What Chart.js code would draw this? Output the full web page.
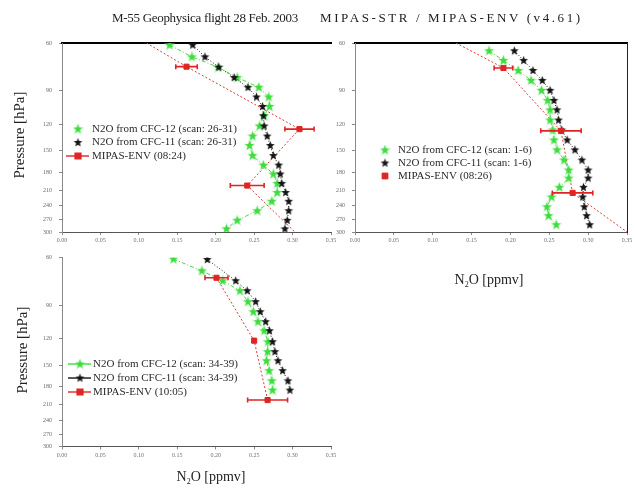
<!DOCTYPE html>
<html>
<head>
<meta charset="utf-8">
<script src="https://cdn.jsdelivr.net/npm/chart.js@4.4.1/dist/chart.umd.min.js"></script>
<style>
    body { margin: 0; background: #fff; }
    #marco { position: relative; width: 635px; height: 489px; overflow: hidden; font-family: "Liberation Serif", "DejaVu Serif", serif; color: #222; }
    #marco canvas { position: absolute; left: 0; top: 0; }
    .txt { position: absolute; white-space: nowrap; line-height: 1; }
    .titulo { top: 11px; font-size: 13px; }
    .titY { font-size: 15px; transform: translate(-50%, -50%) rotate(-90deg); }
    .titX { font-size: 14px; transform: translate(-50%, -50%); }
    .titX sub { font-size: 8px; }
</style>
</head>
<body>
<div id="marco">
    <canvas id="gSupIzq" width="635" height="489"></canvas>
    <canvas id="gSupDer" width="635" height="489"></canvas>
    <canvas id="gInfIzq" width="635" height="489"></canvas>

    <div class="txt titulo" style="left:112px; letter-spacing:-0.3px;">M-55 Geophysica flight 28 Feb. 2003</div>
    <div class="txt titulo" style="left:320px; letter-spacing:2.6px;">MIPAS-STR / MIPAS-ENV (v4.61)</div>
    <div class="txt titY" style="left:19px; top:135px;">Pressure [hPa]</div>
    <div class="txt titY" style="left:22px; top:350px;">Pressure [hPa]</div>
    <div class="txt titX" style="left:489px; top:281px;">N<sub>2</sub>O [ppmv]</div>
    <div class="txt titX" style="left:211px; top:478px;">N<sub>2</sub>O [ppmv]</div>
</div>

<script>
// ejes comunes
const presionTicks = [60, 90, 120, 150, 180, 210, 240, 270, 300];
const n2oTicks = [0.00, 0.05, 0.10, 0.15, 0.20, 0.25, 0.30, 0.35];

// panel 1: scans 26-31, MIPAS-ENV 08:24
const p1Presion = [61, 67.5, 73.7, 80.5, 87.5, 95, 103, 111.5, 121.6, 132.5, 143.6, 156.4, 169.7, 183, 198.3, 214.3, 231, 250.3, 271.5, 292];
const p1Cfc12 = [0.140, 0.169, 0.203, 0.228, 0.256, 0.269, 0.270, 0.263, 0.257, 0.248, 0.244, 0.248, 0.262, 0.275, 0.280, 0.280, 0.273, 0.254, 0.228, 0.214];
const p1Cfc11 = [0.170, 0.186, 0.204, 0.224, 0.242, 0.253, 0.261, 0.262, 0.263, 0.267, 0.271, 0.275, 0.282, 0.284, 0.286, 0.291, 0.295, 0.295, 0.293, 0.290];
const p1EnvPresion = [73.4, 124.9, 202];
const p1Env = [0.162, 0.309, 0.241];
const p1EnvError = [0.014, 0.019, 0.022];
const p1EnvExtremos = [0.110, 0.303];   // perfil ENV en 60 y 300 hPa

// panel 2: scans 1-6, MIPAS-ENV 08:26
const p2Presion = [64.1, 69.6, 75.8, 82.5, 89.8, 97.8, 106, 115.6, 125.8, 137, 149, 162.5, 177, 189.6, 205, 222.6, 242, 261, 282];
const p2Cfc12 = [0.1725, 0.191, 0.210, 0.2265, 0.240, 0.248, 0.251, 0.251, 0.2545, 0.256, 0.260, 0.269, 0.275, 0.275, 0.263, 0.253, 0.247, 0.249, 0.259];
const p2Cfc11 = [0.205, 0.217, 0.229, 0.241, 0.251, 0.256, 0.260, 0.262, 0.266, 0.273, 0.283, 0.292, 0.300, 0.300, 0.294, 0.293, 0.295, 0.298, 0.302];
const p2EnvPresion = [74.2, 126.8, 215];
const p2Env = [0.191, 0.265, 0.280];
const p2EnvError = [0.012, 0.026, 0.026];
const p2EnvExtremos = [0.130, 0.350];

// panel 3: scans 34-39, MIPAS-ENV 10:05
const p3Presion12 = [60.8, 67.2, 73.1, 79.6, 87.4, 95.2, 103.6, 111.9, 122.9, 133.8, 144.5, 157.3, 171.4, 185.6];
const p3Cfc12 = [0.145, 0.182, 0.209, 0.2315, 0.242, 0.249, 0.255, 0.263, 0.268, 0.2675, 0.266, 0.2695, 0.273, 0.274];
const p3Presion11 = [61, 73.1, 79.6, 87.4, 95.2, 103.6, 111.9, 122.9, 133.8, 144.5, 157.3, 171.4, 185.6];
const p3Cfc11 = [0.189, 0.226, 0.241, 0.252, 0.258, 0.265, 0.270, 0.274, 0.277, 0.281, 0.287, 0.294, 0.2965];
const p3EnvPresion = [71.3, 121.8, 202];
const p3Env = [0.201, 0.250, 0.2675];
const p3EnvError = [0.015, 0, 0.026];

const SERIF = '"Liberation Serif", "DejaVu Serif", serif';
const VERDE = '#3ddc3d';
const NEGRO = '#151515';
const ROJO = '#e02424';

// estrella rellena de 5 puntas para usar como pointStyle
function estrella(relleno, halo) {
    const c = document.createElement('canvas');
    c.width = 11; c.height = 11;
    const g = c.getContext('2d');
    g.beginPath();
    for (let i = 0; i < 10; i++) {
        const r = i % 2 ? 2.0 : 4.6;
        const a = -Math.PI / 2 + i * Math.PI / 5;
        g.lineTo(5.5 + r * Math.cos(a), 5.7 + r * Math.sin(a));
    }
    g.closePath();
    if (halo) { g.strokeStyle = halo; g.lineWidth = 1.4; g.stroke(); }
    g.fillStyle = relleno;
    g.fill();
    return c;
}
const estrellaVerde = estrella(VERDE, 'rgba(140,235,140,0.55)');
const estrellaNegra = estrella(NEGRO, null);

function puntos(presiones, valores) {
    return presiones.map((p, i) => ({ x: valores[i], y: p }));
}

// barras de error horizontales
const barrasError = {
    id: 'barrasError',
    afterDatasetsDraw(chart) {
        const ctx = chart.ctx, sx = chart.scales.x, sy = chart.scales.y;
        chart.data.datasets.forEach(ds => {
            if (!ds.errores) return;
            ctx.save();
            ctx.strokeStyle = ROJO;
            ctx.lineWidth = 1.6;
            ds.data.forEach((pt, i) => {
                const e = ds.errores[i];
                if (!e) return;
                const x1 = sx.getPixelForValue(pt.x - e);
                const x2 = sx.getPixelForValue(pt.x + e);
                const y = sy.getPixelForValue(pt.y);
                ctx.beginPath();
                ctx.moveTo(x1, y); ctx.lineTo(x2, y);
                ctx.moveTo(x1, y - 2.5); ctx.lineTo(x1, y + 2.5);
                ctx.moveTo(x2, y - 2.5); ctx.lineTo(x2, y + 2.5);
                ctx.stroke();
            });
            ctx.restore();
        });
    }
};

// leyenda dentro del area del grafico
const leyendaInterna = {
    id: 'leyendaInterna',
    afterDraw(chart, args, opts) {
        const ctx = chart.ctx;
        const items = chart.data.datasets.filter(ds => ds.textoLeyenda);
        ctx.save();
        ctx.font = '11px ' + SERIF;
        ctx.textBaseline = 'middle';
        items.forEach((ds, i) => {
            const x = opts.x, y = opts.y + i * opts.dy;
            if (opts.lineas[i]) {
                ctx.strokeStyle = ds.colorLeyenda;
                ctx.lineWidth = 1.4;
                ctx.setLineDash([]);
                ctx.beginPath();
                ctx.moveTo(x - 12, y); ctx.lineTo(x + 11, y);
                ctx.stroke();
            }
            ctx.fillStyle = ds.pointBackgroundColor || ds.colorLeyenda;
            ctx.strokeStyle = ds.pointBorderColor || ds.colorLeyenda;
            Chart.helpers.drawPoint(ctx, { pointStyle: ds.pointStyle, radius: ds.pointRadius + 0.5, rotation: 0, borderWidth: 1 }, x, y);
            ctx.fillStyle = '#2a2a2a';
            ctx.fillText(ds.textoLeyenda, x + opts.sep, y);
        });
        ctx.restore();
    }
};

function crearPanel(id, cfg) {
    const area = cfg.area;    // [izq, sup, der, inf]
    const anchoY = 30, altoX = 14;

    const datasets = [
        {
            textoLeyenda: cfg.leyenda[0], colorLeyenda: VERDE,
            data: puntos(cfg.presion12, cfg.cfc12),
            showLine: true, borderColor: '#4fd24f', borderWidth: 1, borderDash: [4, 2, 1, 2],
            pointStyle: estrellaVerde, pointRadius: 4, order: 2
        },
        {
            textoLeyenda: cfg.leyenda[1], colorLeyenda: NEGRO,
            data: puntos(cfg.presion11, cfg.cfc11),
            showLine: true, borderColor: '#222', borderWidth: 1, borderDash: [1, 2],
            pointStyle: estrellaNegra, pointRadius: 4, order: 1
        },
        {
            data: puntos(cfg.envLineaPresion, cfg.envLinea),
            showLine: true, borderColor: '#e2383a', borderWidth: 1, borderDash: [2, 2],
            pointRadius: 0, order: 3
        },
        {
            textoLeyenda: cfg.leyenda[2], colorLeyenda: ROJO,
            data: puntos(cfg.envPresion, cfg.env),
            errores: cfg.envError,
            showLine: false, pointStyle: 'rect', pointRadius: 3.6,
            pointBackgroundColor: ROJO, pointBorderColor: ROJO, order: 0
        }
    ];

    const scales = {
        x: {
            type: 'linear', position: 'bottom', min: 0, max: 0.35,
            afterBuildTicks: s => { s.ticks = n2oTicks.map(v => ({ value: v })); },
            afterFit: s => { s.height = altoX; },
            ticks: { autoSkip: false, maxRotation: 0, padding: 2, color: '#707070', font: { family: SERIF, size: 6 }, callback: v => v.toFixed(2) },
            grid: { drawOnChartArea: false, tickLength: 3, color: '#8a8a8a' },
            border: { display: cfg.bordeInf, color: '#555', width: 1 }
        },
        xSup: {
            type: 'linear', position: 'top', min: 0, max: 0.35,
            afterFit: s => { s.height = 0; },
            ticks: { display: false },
            grid: { display: false },
            border: { display: cfg.bordeSup, color: '#000', width: 2 }
        },
        y: {
            type: 'logarithmic', reverse: true, min: 60, max: 300,
            afterBuildTicks: s => { s.ticks = presionTicks.map(v => ({ value: v })); },
            afterFit: s => { s.width = anchoY; },
            ticks: { autoSkip: false, padding: 7, color: '#6a6a6a', font: { family: SERIF, size: 6 }, callback: v => String(v) },
            grid: { drawOnChartArea: false, tickLength: 3, color: '#8a8a8a' },
            border: { color: '#8a8a8a', width: 1 }
        }
    };
    if (cfg.bordeDer) {
        scales.yDer = {
            type: 'logarithmic', position: 'right', reverse: true, min: 60, max: 300,
            afterFit: s => { s.width = 0; },
            ticks: { display: false },
            grid: { display: false },
            border: { color: '#222', width: 1 }
        };
    }

    return new Chart(document.getElementById(id), {
        type: 'scatter',
        data: { datasets: datasets },
        plugins: [barrasError, leyendaInterna],
        options: {
            responsive: false,
            animation: false,
            events: [],
            layout: {
                padding: {
                    left: area[0] - anchoY,
                    top: area[1],
                    right: 635 - area[2],
                    bottom: 489 - area[3] - altoX
                }
            },
            scales: scales,
            plugins: {
                legend: { display: false },
                tooltip: { enabled: false },
                leyendaInterna: cfg.posLeyenda
            }
        }
    });
}

crearPanel('gSupIzq', {
    area: [62, 43, 331, 232],
    bordeSup: true, bordeInf: true, bordeDer: false,
    presion12: p1Presion, cfc12: p1Cfc12,
    presion11: p1Presion, cfc11: p1Cfc11,
    envPresion: p1EnvPresion, env: p1Env, envError: p1EnvError,
    envLineaPresion: [60, ...p1EnvPresion, 300], envLinea: [p1EnvExtremos[0], ...p1Env, p1EnvExtremos[1]],
    leyenda: ['N2O from CFC-12 (scan: 26-31)', 'N2O from CFC-11 (scan: 26-31)', 'MIPAS-ENV (08:24)'],
    posLeyenda: { x: 78, y: 129, dy: 13.5, sep: 14, lineas: [false, false, true] }
});

crearPanel('gSupDer', {
    area: [355, 43, 627, 232],
    bordeSup: true, bordeInf: true, bordeDer: true,
    presion12: p2Presion, cfc12: p2Cfc12,
    presion11: p2Presion, cfc11: p2Cfc11,
    envPresion: p2EnvPresion, env: p2Env, envError: p2EnvError,
    envLineaPresion: [60, ...p2EnvPresion, 300], envLinea: [p2EnvExtremos[0], ...p2Env, p2EnvExtremos[1]],
    leyenda: ['N2O from CFC-12 (scan: 1-6)', 'N2O from CFC-11 (scan: 1-6)', 'MIPAS-ENV (08:26)'],
    posLeyenda: { x: 385, y: 150, dy: 13, sep: 13, lineas: [false, false, false] }
});

crearPanel('gInfIzq', {
    area: [62, 257.5, 331, 446.5],
    bordeSup: false, bordeInf: true, bordeDer: false,
    presion12: p3Presion12, cfc12: p3Cfc12,
    presion11: p3Presion11, cfc11: p3Cfc11,
    envPresion: p3EnvPresion, env: p3Env, envError: p3EnvError,
    envLineaPresion: p3EnvPresion, envLinea: p3Env,
    leyenda: ['N2O from CFC-12 (scan: 34-39)', 'N2O from CFC-11 (scan: 34-39)', 'MIPAS-ENV (10:05)'],
    posLeyenda: { x: 80, y: 364, dy: 14, sep: 13, lineas: [true, true, true] }
});
</script>
</body>
</html>
